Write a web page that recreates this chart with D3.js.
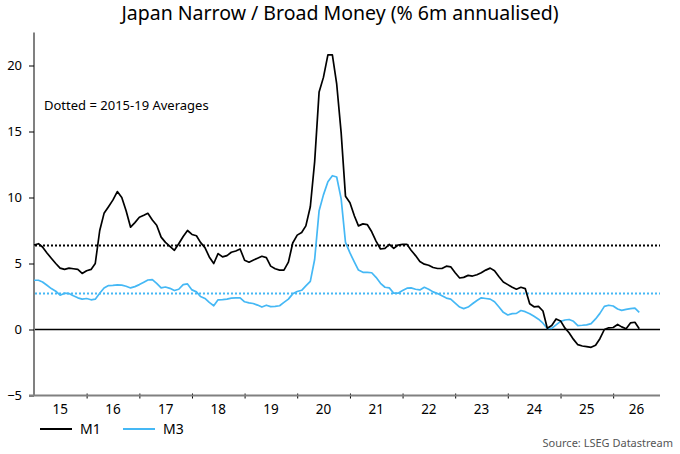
<!DOCTYPE html>
<html>
<head>
<meta charset="utf-8">
<script src="https://cdn.jsdelivr.net/npm/d3@7"></script>
<style>
  body { margin: 0; background: #fff; }
  svg { display: block; font-family: "Noto Sans", "Open Sans", sans-serif; }
</style>
</head>
<body>
<div id="chart"></div>
<script>
// monthly, starting Jan 2015
const START_YEAR = 2015;
const m1 = [
  6.4, 6.5, 6.25, 5.8, 5.4, 5.0, 4.65, 4.55, 4.65, 4.6,
  4.55, 4.25, 4.45, 4.55, 5.0, 7.5, 8.8, 9.3, 9.8, 10.45,
  10.0, 9.0, 7.75, 8.1, 8.5, 8.65, 8.8, 8.3, 7.9, 7.0,
  6.6, 6.3, 6.0, 6.5, 7.05, 7.5, 7.2, 7.1, 6.6, 6.2,
  5.5, 5.0, 5.75, 5.5, 5.6, 5.85, 5.95, 6.1, 5.25, 5.1,
  5.25, 5.4, 5.55, 5.45, 4.8, 4.6, 4.5, 4.5, 5.1,
  6.55, 7.15, 7.35, 7.85, 9.3, 12.7, 18.0, 19.1, 20.8, 20.8,
  18.6, 14.9, 10.1, 9.6, 8.6, 7.85, 8.0, 7.95, 7.4, 6.7,
  6.1, 6.15, 6.45, 6.15, 6.4, 6.45, 6.45, 6.0, 5.6, 5.15,
  4.95, 4.87, 4.7, 4.62, 4.62, 4.8, 4.75, 4.3, 3.9, 3.95,
  4.1, 4.05, 4.15, 4.3, 4.5, 4.65, 4.45, 4.0, 3.6, 3.4,
  3.2, 3.05, 3.2, 3.1, 1.95, 1.72, 1.75, 1.4, 0.1, 0.3,
  0.8, 0.65, 0.1, -0.25, -0.75, -1.15, -1.25, -1.3, -1.35, -1.2,
  -0.7, 0.0, 0.13, 0.15, 0.38, 0.2, 0.05, 0.5, 0.55, 0.05
];
const m3 = [
  3.73, 3.73, 3.6, 3.35, 3.1, 2.9, 2.6, 2.75, 2.72, 2.55,
  2.4, 2.3, 2.35, 2.25, 2.3, 2.75, 3.15, 3.33, 3.35, 3.38,
  3.36, 3.28, 3.15, 3.25, 3.4, 3.58, 3.75, 3.78, 3.5, 3.15,
  3.22, 3.12, 2.95, 3.05, 3.4, 3.45, 3.0, 2.85, 2.5, 2.35,
  2.05, 1.8, 2.25, 2.27, 2.3, 2.38, 2.4, 2.4, 2.1, 2.02,
  1.97, 1.85, 1.7, 1.84, 1.73, 1.75, 1.8, 2.05, 2.3,
  2.7, 2.88, 2.97, 3.3, 3.65, 5.3, 9.0, 10.2, 11.2, 11.65,
  11.55, 9.9, 6.6, 5.8, 5.1, 4.5, 4.33, 4.33, 4.3, 3.95,
  3.5, 3.2, 3.15, 2.75, 2.75, 2.95, 3.13, 3.15, 3.05, 3.0,
  3.2, 3.05, 2.85, 2.72, 2.55, 2.38, 2.3, 2.0, 1.7, 1.58,
  1.7, 1.95, 2.2, 2.4, 2.35, 2.3, 2.1, 1.7, 1.3, 1.1,
  1.2, 1.22, 1.44, 1.35, 1.2, 1.0, 0.78, 0.48, 0.08, 0.08,
  0.35, 0.62, 0.72, 0.76, 0.62, 0.3, 0.32, 0.35, 0.45, 0.8,
  1.22, 1.75, 1.84, 1.78, 1.55, 1.45, 1.52, 1.58, 1.62, 1.3
];
// 2015-19 averages (dotted lines)
const m1Avg = 6.36;
const m3Avg = 2.73;
const yTicks = [-5, 0, 5, 10, 15, 20];
const yearLabels = ["15", "16", "17", "18", "19", "20", "21", "22", "23", "24", "25", "26"];

const W = 680, H = 454;
const plotLeft = 34, plotRight = 660, plotTop = 32.5, plotBottom = 395.5;
const M1_COLOR = "#000000", M3_COLOR = "#45b8f5";

const svg = d3.select("#chart").append("svg")
  .attr("width", W)
  .attr("height", H);

const dateOf = i => new Date(START_YEAR, i, 1);
const xEnd = new Date(2026, 10, 22);

const x = d3.scaleTime()
  .domain([new Date(START_YEAR, 0, 1), xEnd])
  .range([plotLeft, plotRight]);

const y = d3.scaleLinear()
  .domain([-5, 22.5])
  .range([plotBottom, plotTop]);

// title
svg.append("text")
  .attr("x", 340).attr("y", 20)
  .attr("text-anchor", "middle")
  .style("font-size", "19.5px")
  .text("Japan Narrow / Broad Money (% 6m annualised)");

// zero line
svg.append("line")
  .attr("x1", plotLeft).attr("x2", plotRight)
  .attr("y1", y(0)).attr("y2", y(0))
  .attr("stroke", "#000").attr("stroke-width", 1.3);

// averages
[[m1Avg, M1_COLOR], [m3Avg, M3_COLOR]].forEach(function (a) {
  svg.append("line")
    .attr("x1", plotLeft + 1).attr("x2", plotRight)
    .attr("y1", y(a[0])).attr("y2", y(a[0]))
    .attr("stroke", a[1])
    .attr("stroke-width", 2)
    .attr("stroke-dasharray", "2,2");
});

// y axis
const yAxis = svg.append("g")
  .attr("transform", `translate(${plotLeft},0)`)
  .call(d3.axisLeft(y).tickValues(yTicks).tickSize(5).tickPadding(7).tickFormat(d3.format("d")));
yAxis.select(".domain").attr("stroke", "#808080").attr("stroke-width", 2)
  .attr("d", `M0,${plotTop}V${plotBottom}`);
yAxis.selectAll(".tick line").attr("stroke", "#000");
yAxis.selectAll(".tick text").style("font-size", "13px").attr("fill", "#000")
  .style("font-family", "'Noto Sans', sans-serif");

// x axis
const yearTicks = d3.range(START_YEAR + 1, 2027).map(yr => new Date(yr, 0, 1));
const xAxis = svg.append("g")
  .attr("transform", `translate(0,${plotBottom - 2})`)
  .call(d3.axisBottom(x).tickValues(yearTicks).tickSize(5).tickFormat(""));
xAxis.select(".domain").remove();
xAxis.selectAll(".tick line").attr("stroke", "#000");
svg.append("line")
  .attr("x1", plotLeft - 5).attr("x2", plotRight)
  .attr("y1", plotBottom).attr("y2", plotBottom)
  .attr("stroke", "#808080").attr("stroke-width", 2);

// year labels centred in each year interval
const bounds = [new Date(START_YEAR, 0, 1)].concat(yearTicks).concat([xEnd]);
svg.append("g").selectAll("text")
  .data(yearLabels)
  .enter().append("text")
  .attr("x", (d, i) => (x(bounds[i]) + x(bounds[i + 1])) / 2)
  .attr("y", 414)
  .attr("text-anchor", "middle")
  .style("font-size", "13.5px")
  .text(d => d);

// series
const line = d3.line()
  .x((d, i) => x(dateOf(i)))
  .y(d => y(d));

svg.append("path").datum(m3)
  .attr("fill", "none").attr("stroke", M3_COLOR).attr("stroke-width", 1.7)
  .attr("stroke-linejoin", "round")
  .attr("d", line);

svg.append("path").datum(m1)
  .attr("fill", "none").attr("stroke", M1_COLOR).attr("stroke-width", 1.7)
  .attr("stroke-linejoin", "round")
  .attr("d", line);

// note
svg.append("text")
  .attr("x", 44).attr("y", 110)
  .style("font-size", "13px")
  .text("Dotted = 2015-19 Averages");

// legend
const legend = svg.append("g");
[["M1", M1_COLOR, 40], ["M3", M3_COLOR, 123]].forEach(function (s) {
  legend.append("line")
    .attr("x1", s[2]).attr("x2", s[2] + 32)
    .attr("y1", 429).attr("y2", 429)
    .attr("stroke", s[1]).attr("stroke-width", 2);
  legend.append("text")
    .attr("x", s[2] + 40).attr("y", 434)
    .style("font-size", "14px")
    .text(s[0]);
});

// source
svg.append("text")
  .attr("x", 673).attr("y", 447)
  .attr("text-anchor", "end")
  .style("font-size", "11px")
  .attr("fill", "#555")
  .text("Source: LSEG Datastream");
</script>
</body>
</html>
